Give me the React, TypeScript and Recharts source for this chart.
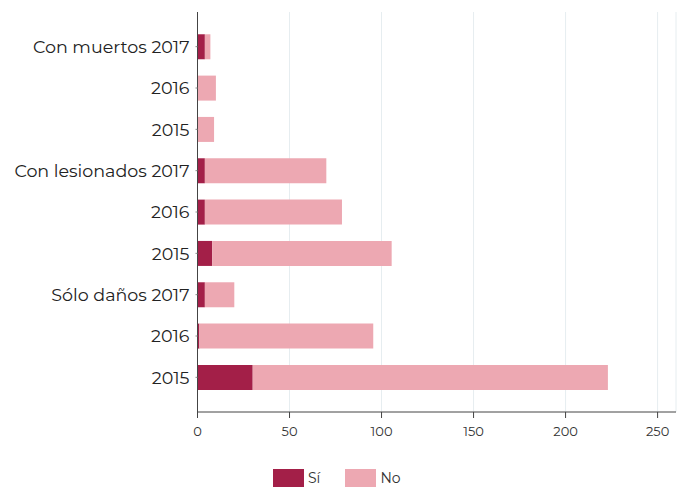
import { BarChart, Bar, XAxis, YAxis, CartesianGrid } from 'recharts'

const categories = [
  'Con muertos 2017',
  '2016',
  '2015',
  'Con lesionados 2017',
  '2016 ',
  '2015 ',
  'Sólo daños 2017',
  '2016  ',
  '2015  ',
]
const siValues = [4, 0, 0, 4, 4, 8, 4, 1, 30]
const noValues = [3, 10, 9, 66, 74.5, 97.5, 16, 94.5, 193]
const xTicks = [0, 50, 100, 150, 200, 250]

const SI_COLOR = '#a31f48'
const NO_COLOR = '#eda8b2'
const FONT = 'Montserrat, "Open Sans", sans-serif'

const data = categories.map((c, i) => ({ name: c, si: siValues[i], no: noValues[i] }))

function LegendRow() {
  const items = [
    { label: 'Sí', color: SI_COLOR },
    { label: 'No', color: NO_COLOR },
  ]
  return (
    <div
      style={{
        position: 'absolute',
        top: 469,
        left: 273,
        display: 'flex',
        alignItems: 'center',
        fontFamily: FONT,
        fontSize: 14,
        color: '#333',
      }}
    >
      {items.map((it) => (
        <div key={it.label} style={{ display: 'flex', alignItems: 'center', marginRight: 25 }}>
          <div style={{ width: 31, height: 18, background: it.color, marginRight: 4 }} />
          <span>{it.label}</span>
        </div>
      ))}
    </div>
  )
}

export default function App() {
  return (
    <div style={{ position: 'relative', margin: -8, width: 686, height: 499, background: '#fff' }}>
      <BarChart
        width={686}
        height={499}
        data={data}
        layout="vertical"
        margin={{ top: 12, right: 10, left: 0, bottom: 57 }}
        barCategoryGap="20%"
      >
        <CartesianGrid vertical horizontal={false} stroke="#e6edf0" />
        <XAxis
          type="number"
          domain={[0, 260]}
          ticks={xTicks}
          tick={{ fontFamily: FONT, fontSize: 13, fill: '#333' }}
          axisLine={{ stroke: '#444' }}
          tickLine={{ stroke: '#444' }}
          tickSize={6}
          tickMargin={9}
        />
        <YAxis
          type="category"
          dataKey="name"
          width={197.5}
          padding={{ top: 14, bottom: 14 }}
          tick={{ fontFamily: FONT, fontSize: 17.5, fill: '#222' }}
          axisLine={{ stroke: '#444' }}
          tickLine={{ stroke: '#888' }}
          tickSize={2}
          tickMargin={6}
          interval={0}
        />
        <Bar dataKey="si" stackId="a" fill={SI_COLOR} isAnimationActive={false} />
        <Bar dataKey="no" stackId="a" fill={NO_COLOR} isAnimationActive={false} />
      </BarChart>
      <LegendRow />
    </div>
  )
}
